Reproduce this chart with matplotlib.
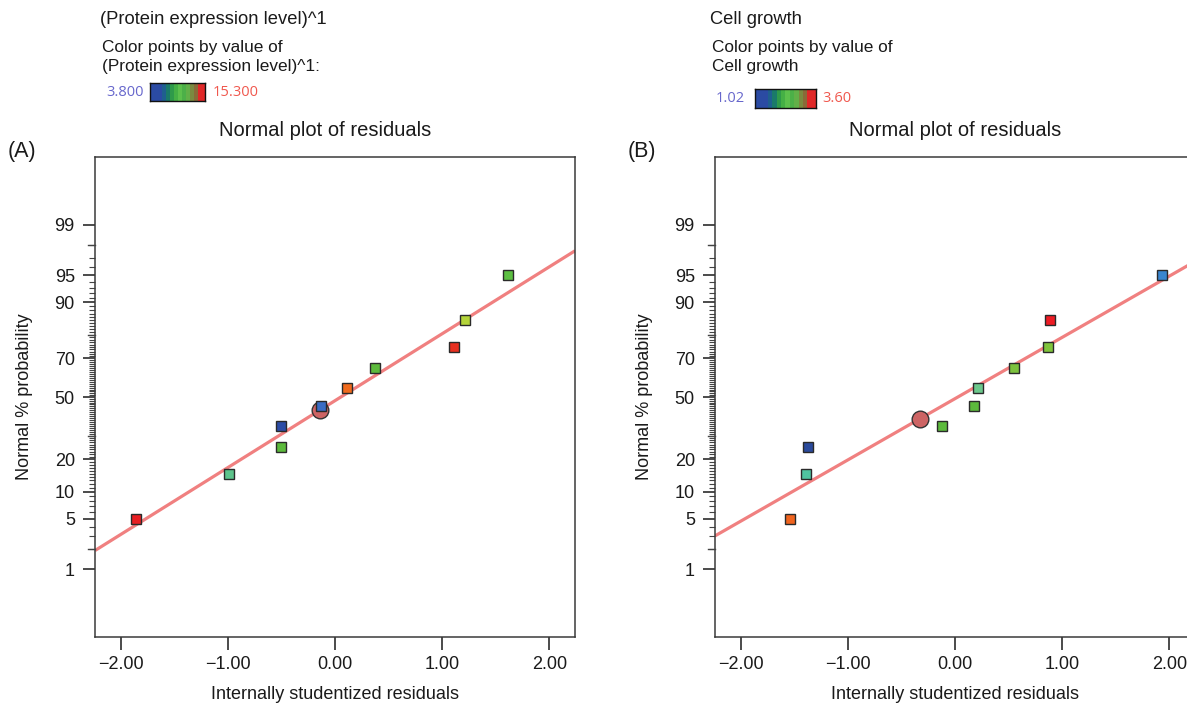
import matplotlib
matplotlib.use("Agg")
import matplotlib.pyplot as plt
from matplotlib.colors import ListedColormap
from matplotlib.transforms import blended_transform_factory
from statistics import NormalDist
import numpy as np

plt.rcParams["font.family"] = ["Liberation Sans", "DejaVu Sans"]

W, H = 1187, 708
TXT = "#1a1a1a"
LINE = "#f08080"

# run order percentiles shared by both panels
pct = [5, 15, 25, 35, 45, 55, 65, 75, 85, 95]

# (A) protein expression level
resid_a = [-1.86, -0.99, -0.50, -0.50, -0.13, 0.11, 0.37, 1.11, 1.21, 1.61]
color_a = ["#e81e22", "#5ec48c", "#5cba3c", "#2c4ca6", "#3a6cc4",
           "#f06a1c", "#5cba3c", "#e83020", "#b4d43a", "#5cbf42"]
circle_a = (-0.14, 43.1)
line_a_x = [-2.24, 2.24]
line_a_pct = [1.91, 97.58]

# (B) cell growth
resid_b = [-1.54, -1.39, -1.37, -0.12, 0.18, 0.21, 0.55, 0.87, 0.89, 1.93]
color_b = ["#f0641e", "#4fc4a0", "#2a4a9c", "#5cba3c", "#5cba3c",
           "#6cc88c", "#7cc23e", "#80c43c", "#ee1c24", "#3a86d0"]
circle_b = (-0.33, 38.5)
line_b_x = [-2.24, 2.24]
line_b_pct = [3.04, 96.64]

ytick_pct = [1, 5, 10, 20, 50, 70, 90, 95, 99]
mid_pct = [2, 30, 80, 98]
xticks = [-2, -1, 0, 1, 2]

stripes = ["#2b4ba3", "#2b4ba3", "#2b4ba3", "#1f5f8f", "#1a7a6a", "#2f9a4a",
           "#45b045", "#5cc04c", "#4cb048", "#62b048", "#7a8a40", "#8a6a38",
           "#e02828", "#e02828"]

nd = NormalDist()


def z(p):
    return [nd.inv_cdf(v / 100.0) for v in np.atleast_1d(p)]


def fx(x):
    return x / W


def fy(y):
    return 1 - y / H


fig = plt.figure(figsize=(W / 100, H / 100), dpi=100)
fig.patch.set_facecolor("white")


def panel(x0, resid, colors, circle, lx, lp, letter, head, sub, lo, hi, cb, lo_x, hi_x, tx):
    ax = fig.add_axes([fx(x0), fy(637), 480 / W, 480 / H])
    ax.set_xlim(-2.24, 2.24)
    ax.set_ylim(-3.24, 3.24)
    ax.plot(lx, z(lp), color=LINE, lw=2.3, solid_capstyle="butt", zorder=2)
    ax.plot(circle[0], z(circle[1])[0], "o", ms=12, mfc="#cd6464", mec="#333333",
            mew=1.0, zorder=3)
    for xv, pv, c in zip(resid, pct, colors):
        ax.plot(xv, z(pv)[0], "s", ms=7.3, mfc=c, mec="#2a2a2a", mew=1.0, zorder=4)

    ax.set_xticks(xticks)
    ax.set_xticklabels(["\u22122.00", "\u22121.00", "0.00", "1.00", "2.00"], fontsize=13)
    ax.set_yticks(z(ytick_pct))
    ax.set_yticklabels([str(p) for p in ytick_pct], fontsize=13)
    minor = [p for p in range(1, 100) if p not in ytick_pct]
    ax.set_yticks(z(minor), minor=True)
    ax.tick_params(axis="x", direction="out", length=9, width=1.1, pad=5, colors=TXT)
    ax.tick_params(axis="y", which="major", direction="out", length=8.5, width=1.1,
                   pad=6, colors=TXT)
    ax.tick_params(axis="y", which="minor", direction="out", length=4.3, width=0.8,
                   color="#444444")
    # slightly longer unlabelled ticks
    tr = blended_transform_factory(ax.transAxes, ax.transData)
    for zz in z(mid_pct):
        ax.plot([-0.0145, 0], [zz, zz], transform=tr, color="#444444", lw=1.0,
                clip_on=False, zorder=5)
    for s in ax.spines.values():
        s.set_color("#3a3a3a")
        s.set_linewidth(1.1)
    ax.set_xlabel("Internally studentized residuals", fontsize=13, color=TXT)
    ax.xaxis.set_label_coords(0.5, -0.103)
    ax.set_ylabel("Normal % probability", fontsize=13, color=TXT)
    ax.yaxis.set_label_coords(-0.13, 0.5)

    # headers
    fig.text(fx(tx), fy(131), "Normal plot of residuals", fontsize=14.5,
             ha="center", va="center", color=TXT)
    fig.text(fx(x0 - 87), fy(152), letter, fontsize=15.5, ha="left", va="center", color=TXT)
    fig.text(fx(head[0]), fy(head[1]), head[2], fontsize=13.2, ha="left", va="center",
             color=TXT)
    fig.text(fx(head[0] + 2), fy(head[1] + 38), sub, fontsize=12.4, ha="left",
             va="center", color=TXT, linespacing=1.35)

    # colour key
    cax = fig.add_axes([fx(cb[0]), fy(cb[3]), (cb[2] - cb[0]) / W, (cb[3] - cb[1]) / H])
    cax.imshow(np.arange(len(stripes))[None, :], cmap=ListedColormap(stripes),
               aspect="auto", interpolation="nearest")
    cax.set_xticks([])
    cax.set_yticks([])
    for s in cax.spines.values():
        s.set_color("#111111")
        s.set_linewidth(1.0)
    cy = (cb[1] + cb[3]) / 2
    fig.text(fx(lo_x), fy(cy), lo, fontsize=10.5, ha="left", va="center",
             color="#6767cc", family=["Open Sans", "DejaVu Sans"])
    fig.text(fx(hi_x), fy(cy), hi, fontsize=10.5, ha="left", va="center",
             color="#f0584e", family=["Open Sans", "DejaVu Sans"])
    return ax


panel(95, resid_a, color_a, circle_a, line_a_x, line_a_pct, "(A)",
      (100, 19, "(Protein expression level)^1"),
      "Color points by value of\n(Protein expression level)^1:",
      "3.800", "15.300", (150, 83, 205, 101), 106, 213, 325)

panel(715, resid_b, color_b, circle_b, line_b_x, line_b_pct, "(B)",
      (710, 19, "Cell growth"),
      "Color points by value of\nCell growth",
      "1.02", "3.60", (755, 89, 816, 108), 716, 822, 955)

fig.savefig("out.png", dpi=100, facecolor="white")
